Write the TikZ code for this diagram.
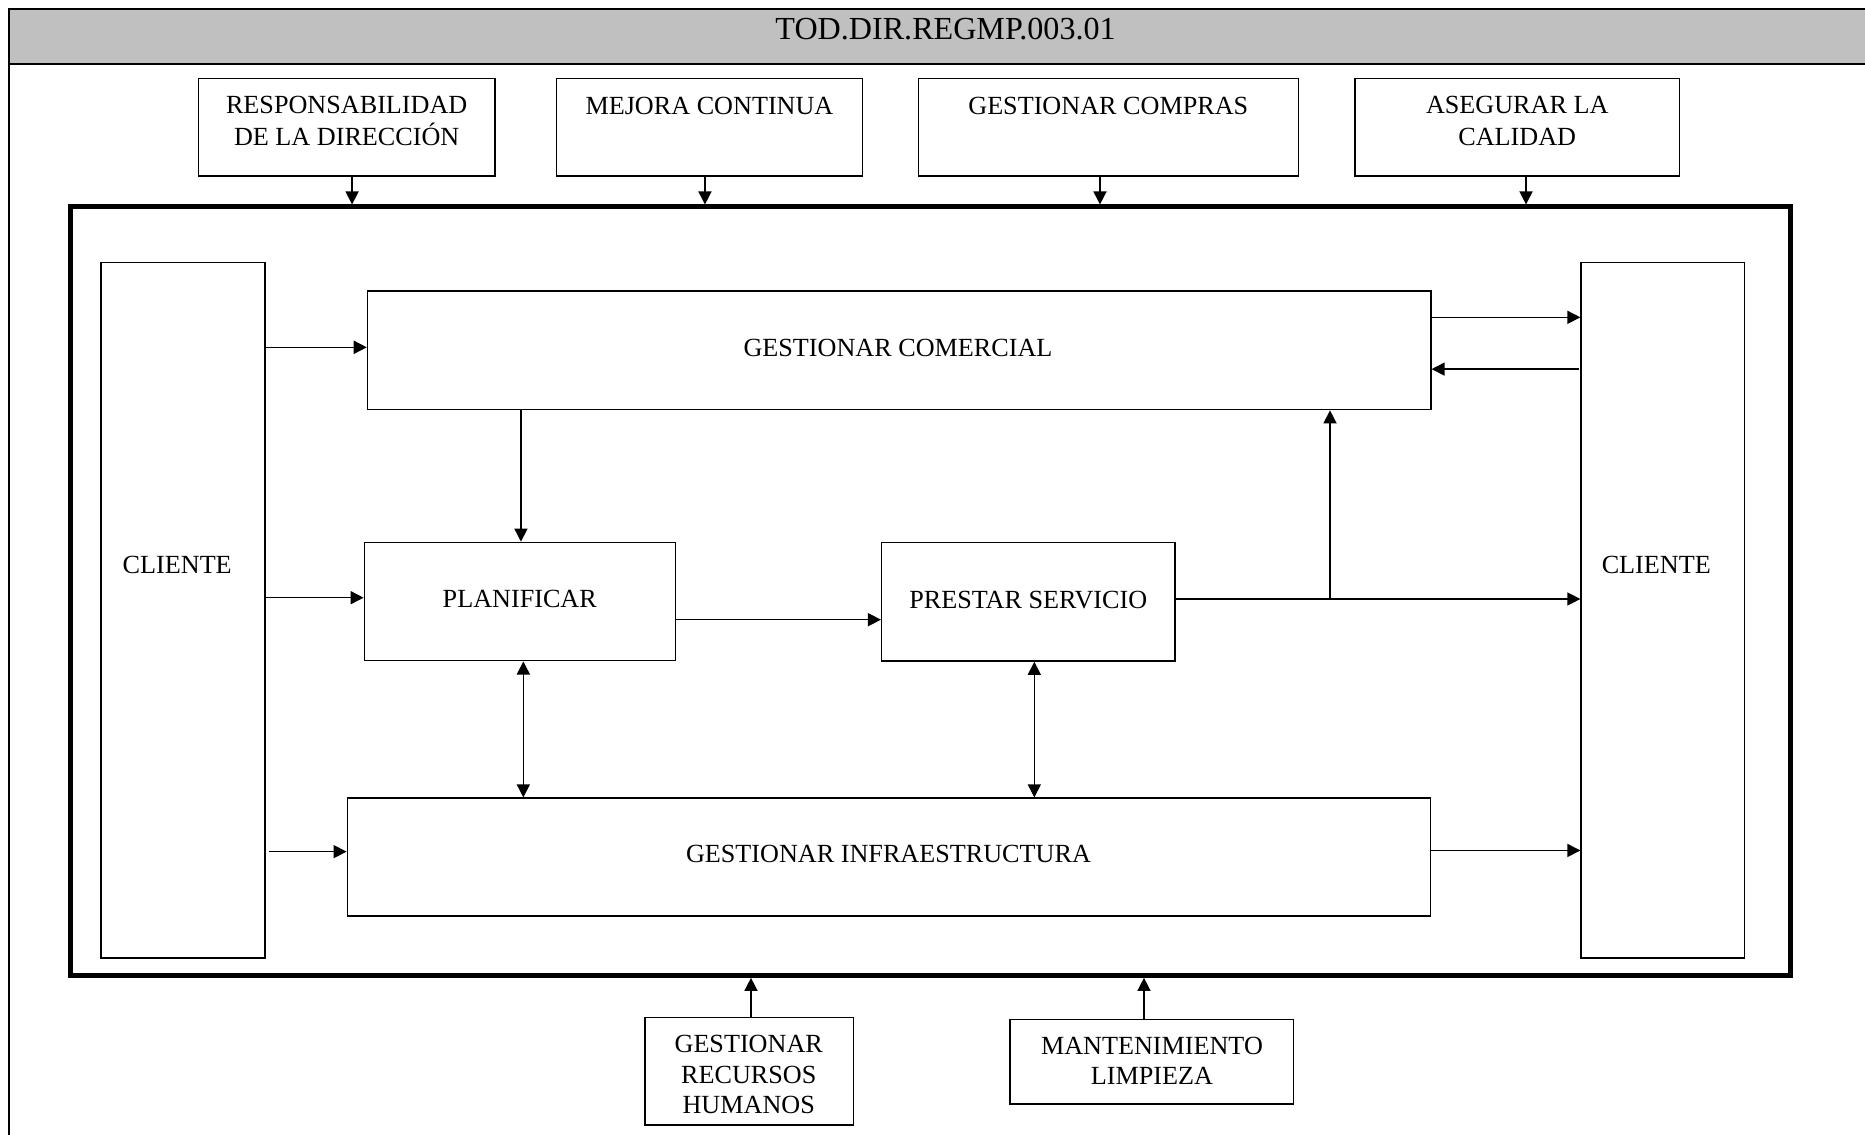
\documentclass[tikz,border=0pt]{standalone}
\usepackage{fontspec}
\setmainfont{Liberation Serif}
\usetikzlibrary{arrows.meta}
\definecolor{headgray}{HTML}{C0C0C0}
\begin{document}
\begin{tikzpicture}[x=1pt,y=-1pt,
  box/.style={draw, line width=1.2pt, inner sep=0pt},
  lbl/.style={anchor=base, inner sep=0pt, font=\fontsize{22}{26}\selectfont},
  arr/.style={line width=1.2pt, -{Triangle[length=11pt,width=11pt]}},
  dblarr/.style={line width=1.2pt, {Triangle[length=11pt,width=11pt]}-{Triangle[length=11pt,width=11pt]}}]
\useasboundingbox (0,0) rectangle (1568,954);
\begin{scope}
\clip (0,0) rectangle (1568,954);
% page frame with grey heading band
\fill[headgray] (7.6,7.6) rectangle (1620,54);
\draw[line width=1.8pt] (1620,7.6) -- (7.6,7.6) -- (7.6,1000);
\draw[line width=1.8pt] (7.6,54) -- (1620,54);
\end{scope}
\node[lbl, font=\fontsize{27}{32}\selectfont] (title) at (795,33) {TOD.DIR.REGMP.003.01};

% support processes (top)
\node[box, minimum width=249pt, minimum height=82pt] (resp) at (291.5,107) {};
\node[box, minimum width=257pt, minimum height=82pt] (mej) at (596.5,107) {};
\node[box, minimum width=319.6pt, minimum height=82pt] (comp) at (931.8,107) {};
\node[box, minimum width=272.8pt, minimum height=82pt] (aseg) at (1275.6,107) {};
\node[lbl] (resp1) at (291.5,95) {RESPONSABILIDAD};
\node[lbl] (resp2) at (291.5,122) {DE LA DIRECCIÓN};
\node[lbl] (mejt) at (596.5,96.5) {MEJORA CONTINUA};
\node[lbl] (compt) at (931.8,96.5) {GESTIONAR COMPRAS};
\node[lbl] (aseg1) at (1275.6,95) {ASEGURAR LA};
\node[lbl] (aseg2) at (1275.6,122) {CALIDAD};

% main process frame
\node[draw, line width=4.2pt, inner sep=0pt, minimum width=1446pt, minimum height=646pt] (proc) at (782.5,497) {};

% clients
\node[box, minimum width=137.8pt, minimum height=584.8pt] (cliL) at (153.9,513.1) {};
\node[box, minimum width=137.2pt, minimum height=584.8pt] (cliR) at (1397.9,513.1) {};
\node[lbl] (cliLt) at (149,482) {CLIENTE};
\node[lbl] (cliRt) at (1392.5,482) {CLIENTE};

% core processes
\node[box, minimum width=894pt, minimum height=99.7pt] (com) at (756,294.55) {};
\node[box, minimum width=261.7pt, minimum height=99.5pt] (plan) at (437.15,505.75) {};
\node[box, minimum width=246.6pt, minimum height=99.5pt] (pres) at (864.6,506.05) {};
\node[box, minimum width=910.5pt, minimum height=99pt] (infra) at (747.25,720.5) {};
\node[lbl] (comt) at (755,299.5) {GESTIONAR COMERCIAL};
\node[lbl] (plant) at (437,511) {PLANIFICAR};
\node[lbl] (prest) at (864.5,511.5) {PRESTAR SERVICIO};
\node[lbl] (infrat) at (747,725.5) {GESTIONAR INFRAESTRUCTURA};

% support processes (bottom)
\node[box, minimum width=175.1pt, minimum height=90.6pt] (rrhh) at (629.85,900.6) {};
\node[box, minimum width=238.2pt, minimum height=71.2pt] (mant) at (968.3,892.6) {};
\node[lbl] (rrhh1) at (629.5,884.8) {GESTIONAR};
\node[lbl] (rrhh2) at (629.5,910.6) {RECURSOS};
\node[lbl] (rrhh3) at (629.5,936) {HUMANOS};
\node[lbl] (mant1) at (968.5,886.4) {MANTENIMIENTO};
\node[lbl] (mant2) at (968.5,911.9) {LIMPIEZA};

% guide lines for the connectors
\coordinate (vResp) at (296,0);
\coordinate (vMej) at (592.7,0);
\coordinate (vComp) at (924.8,0);
\coordinate (vAseg) at (1283,0);
\coordinate (vComPlan) at (438,0);
\coordinate (vPlanInf) at (440,0);
\coordinate (vPresInf) at (869.6,0);
\coordinate (vRrhh) at (631.4,0);
\coordinate (vMant) at (961.8,0);
\coordinate (hCom) at (0,292);
\coordinate (hPlan) at (0,502.5);
\coordinate (hComOut) at (0,266.8);
\coordinate (hComIn) at (0,310.3);
\coordinate (hPlanPres) at (0,521);
\coordinate (hPres) at (0,503.6);
\coordinate (hInfOut) at (0,715);
\coordinate (inStart) at (226,716);
\coordinate (retStart) at (1327.3,310.3);
\coordinate (branch) at (1118.2,503.6);

% inputs from the top
\draw[arr] (resp.south -| vResp) -- (proc.north -| vResp);
\draw[arr] (mej.south -| vMej) -- (proc.north -| vMej);
\draw[arr] (comp.south -| vComp) -- (proc.north -| vComp);
\draw[arr] (aseg.south -| vAseg) -- (proc.north -| vAseg);

% client inputs
\draw[arr] (cliL.east |- hCom) -- (com.west |- hCom);
\draw[arr] (cliL.east |- hPlan) -- (plan.west |- hPlan);
\draw[arr] (inStart) -- (infra.west |- inStart);

% client outputs and returns
\draw[arr] (com.east |- hComOut) -- (cliR.west |- hComOut);
\draw[arr] (retStart) -- (com.east |- retStart);
\draw[arr] (pres.east |- hPres) -- (cliR.west |- hPres);
\draw[arr] (branch) -- (branch |- com.south);
\draw[arr] (infra.east |- hInfOut) -- (cliR.west |- hInfOut);

% internal flow
\draw[arr] (com.south -| vComPlan) -- (plan.north -| vComPlan);
\draw[arr] (plan.east |- hPlanPres) -- (pres.west |- hPlanPres);
\draw[dblarr] (plan.south -| vPlanInf) -- (infra.north -| vPlanInf);
\draw[dblarr] (pres.south -| vPresInf) -- (infra.north -| vPresInf);

% inputs from the bottom
\draw[arr] (rrhh.north -| vRrhh) -- (proc.south -| vRrhh);
\draw[arr] (mant.north -| vMant) -- (proc.south -| vMant);
\end{tikzpicture}
\end{document}
